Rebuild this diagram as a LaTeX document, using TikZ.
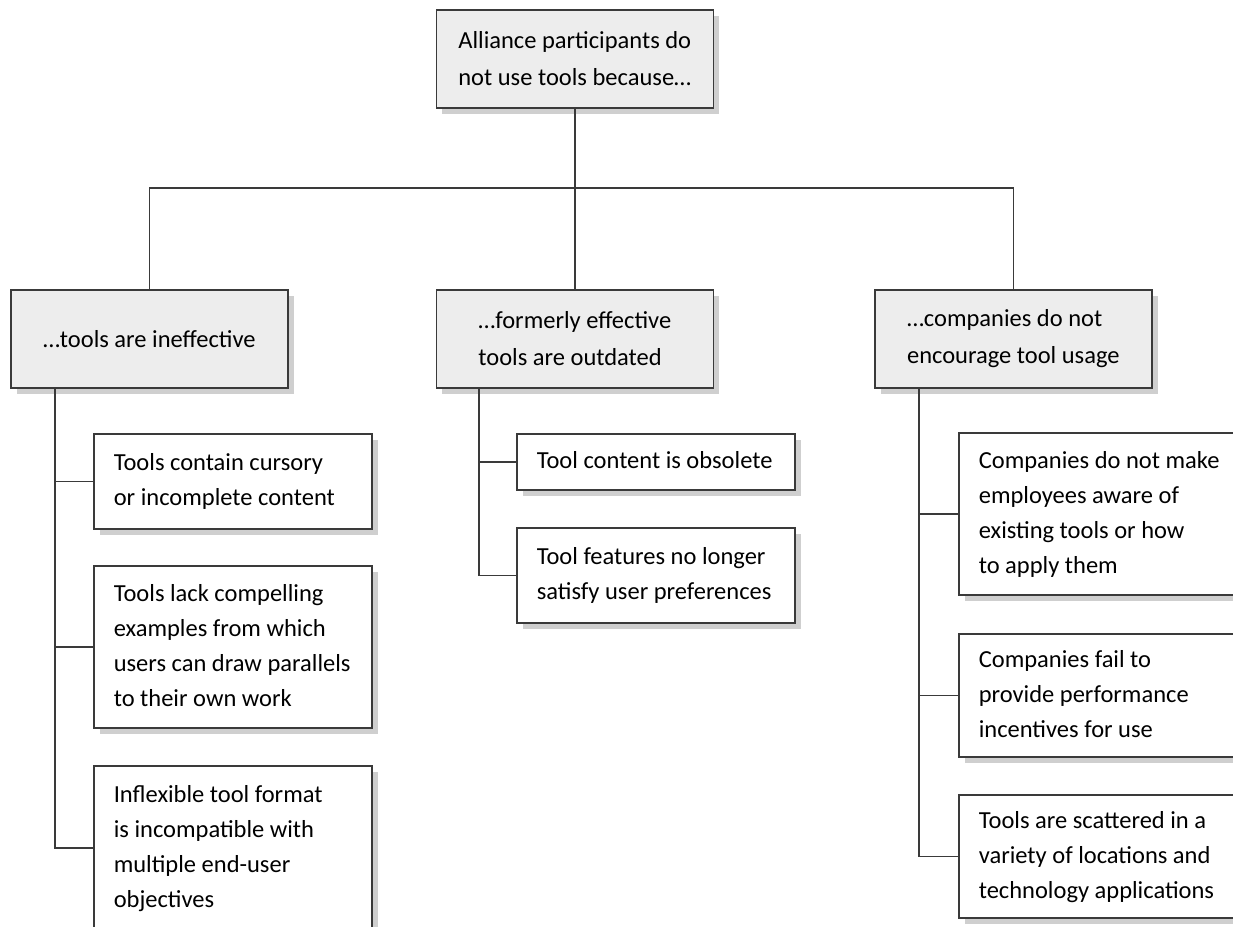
\documentclass[tikz,border=0pt]{standalone}
\usepackage{fontspec}
\setmainfont{Carlito}
\usetikzlibrary{shadows}
\definecolor{edge}{HTML}{3A3A3A}
\definecolor{headfill}{HTML}{EDEDED}
\definecolor{shade}{HTML}{CFCFCF}
% left-set block of fixed lines inside a fixed-width slot
\newcommand\leaftext[1]{\makebox[238pt][l]{\begin{tabular}{@{}l@{}}#1\end{tabular}}}
\begin{document}
\begin{tikzpicture}[x=1pt,y=-1pt,
  base/.style={draw=edge, line width=1.6pt, anchor=north west, inner ysep=0pt,
    font=\fontsize{24.5}{35}\selectfont,
    general shadow={fill=shade, shadow xshift=6pt, shadow yshift=-6pt}},
  head/.style={base, fill=headfill, minimum width=277pt, minimum height=98pt,
    align=left, inner xsep=0pt, font=\fontsize{24.5}{37}\selectfont},
  leaf/.style={base, fill=white, inner xsep=20pt, minimum height=#1},
  link/.style={draw=edge, line width=1.5pt}]
\useasboundingbox (0,0) rectangle (1233,926);

% root and first level
\node[head] (root) at (435.5,9) {Alliance participants do\\not use tools because…};
\node[head] (A) at (10,289) {…tools are ineffective};
\node[head] (B) at (435.5,289) {…formerly effective\\tools are outdated};
\node[head] (C) at (874,289) {…companies do not\\encourage tool usage};

% leaves
\node[leaf=95pt]  (a1) at (93,433) {\leaftext{Tools contain cursory\\or incomplete content}};
\node[leaf=162pt] (a2) at (93,565) {\leaftext{Tools lack compelling\\examples from which\\users can draw parallels\\to their own work}};
\node[leaf=164pt] (a3) at (93,765) {\leaftext{Inflexible tool format\\is incompatible with\\multiple end-user\\objectives}};
\node[leaf=56pt]  (b1) at (516,433) {\leaftext{Tool content is obsolete}};
\node[leaf=95pt]  (b2) at (516,527) {\leaftext{Tool features no longer\\satisfy user preferences}};
\node[leaf=162pt] (c1) at (958,432) {\leaftext{Companies do not make\\employees aware of\\existing tools or how\\to apply them}};
\node[leaf=123pt] (c2) at (958,633) {\leaftext{Companies fail to\\provide performance\\incentives for use}};
\node[leaf=123pt] (c3) at (958,794) {\leaftext{Tools are scattered in a\\variety of locations and\\technology applications}};

% tree connectors
\coordinate (bus) at (0,188);
\draw[link] (root.south) -- (B.north);
\draw[link] (A.north) -- (A.north |- bus) -- (C.north |- bus) -- (C.north);

\coordinate (sa) at (55,0);
\coordinate (sb) at (479,0);
\coordinate (sc) at (919,0);
\draw[link] (A.south -| sa) |- (a3.west);
\draw[link] (a1.west -| sa) -- (a1.west);
\draw[link] (a2.west -| sa) -- (a2.west);
\draw[link] (B.south -| sb) |- (b2.west);
\draw[link] (b1.west -| sb) -- (b1.west);
\draw[link] (C.south -| sc) |- (c3.west);
\draw[link] (c1.west -| sc) -- (c1.west);
\draw[link] (c2.west -| sc) -- (c2.west);
\end{tikzpicture}
\end{document}
